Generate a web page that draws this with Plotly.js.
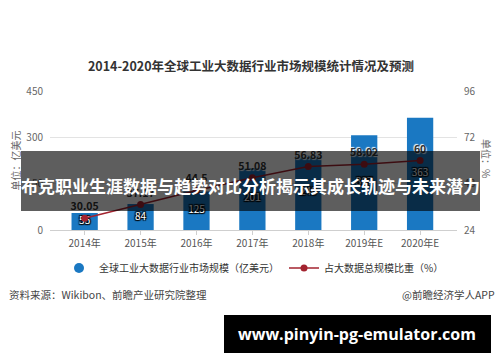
<!DOCTYPE html>
<html>
<head>
<meta charset="utf-8">
<script src="https://cdn.plot.ly/plotly-3.0.1.min.js"></script>
<style>html,body{margin:0;padding:0;background:#fff;}#chart{width:500px;height:362px;}</style>
</head>
<body>
<div id="chart"></div>
<script>
const categories = ["2014年","2015年","2016年","2017年","2018年","2019年E","2020年E"];
const marketSize = [55, 84, 125, 201, 240, 307, 363];
const shareOfTotal = [30.05, 37.17, 44.5, 51.08, 56.83, 58.02, 60];
const shareLabels = ["30.05","37.17","44.5","51.08","56.83","58.02","60"];
const leftTicks = [0, 150, 300, 450];
const rightTicks = [24, 48, 72, 96];

const FONT = '"Noto Sans CJK SC", "Noto Sans", sans-serif';
const BLUE = '#1a78c2';
const RED = '#a3232f';

const traces = [
  {
    type: 'bar', x: categories, y: marketSize, name: '全球工业大数据行业市场规模（亿美元）',
    marker: {color: BLUE}, width: 0.47, showlegend: false, hoverinfo: 'skip'
  },
  {
    type: 'scatter', mode: 'text', x: categories, y: marketSize.map(v => v / 2),
    text: marketSize.map(String), textposition: 'middle center', showlegend: false, cliponaxis: false,
    textfont: {color: '#ffffff', size: 10, family: FONT, shadow: '1px 1px 1px #000, -1px -1px 1px #000, 1px -1px 1px #000, -1px 1px 1px #000'},
    hoverinfo: 'skip'
  },
  {
    type: 'scatter', mode: 'markers', x: [null], y: [null], name: '全球工业大数据行业市场规模（亿美元）',
    marker: {color: BLUE, size: 10, symbol: 'circle'}, showlegend: true
  },
  {
    type: 'scatter', mode: 'lines+markers+text', x: categories, y: shareOfTotal, yaxis: 'y2',
    name: '占大数据总规模比重（%）',
    line: {color: RED, width: 1.5}, marker: {color: RED, size: 7},
    text: shareLabels, textposition: 'top center',
    textfont: {color: '#333', size: 10.5, family: FONT, weight: 'bold', shadow: '1px 1px 1px #fff, -1px -1px 1px #fff'},
    cliponaxis: false
  }
];

function px2x(px){ return (px - 50) / 407; }
function px2y(py){ return (230 - py) / 139; }

const layout = {
  width: 500, height: 362,
  margin: {l: 50, r: 43, t: 91, b: 132},
  paper_bgcolor: '#fff', plot_bgcolor: '#fff',
  font: {family: FONT, color: '#555', size: 10},
  title: {text: '<b>2014-2020年全球工业大数据行业市场规模统计情况及预测</b>', font: {size: 12.5, color: '#333', family: FONT}, x: 0.502, xref: 'container', xanchor: 'center', y: 1 - 67/362, yref: 'container', yanchor: 'middle'},
  bargap: 0.53,
  xaxis: {
    type: 'category', range: [-0.62, 6.66], showgrid: false,
    showline: true, linecolor: '#cfcfcf', linewidth: 1,
    ticks: 'outside', ticklen: 4, tickcolor: '#cfcfcf',
    tickfont: {size: 10, color: '#555'}, fixedrange: true
  },
  yaxis: {
    range: [0, 450], tickvals: leftTicks, ticktext: leftTicks.map(String),
    gridcolor: '#e3e3e3', gridwidth: 1, zeroline: false, showline: false,
    tickfont: {size: 10, color: '#666'}, ticklabelstandoff: 6
  },
  yaxis2: {
    range: [24, 96], tickvals: rightTicks, ticktext: rightTicks.map(String),
    overlaying: 'y', side: 'right', showgrid: false, zeroline: false, showline: false,
    tickfont: {size: 10, color: '#666'}, ticklabelstandoff: 6
  },
  legend: {
    orientation: 'h', x: 0.508, xref: 'container', xanchor: 'center',
    y: 1 - 268/362, yref: 'container', yanchor: 'middle',
    font: {size: 10, color: '#333', family: FONT}, itemwidth: 30, tracegroupgap: 0
  },
  shapes: [
    {type: 'rect', xref: 'paper', yref: 'paper', x0: px2x(21), x1: px2x(480), y0: px2y(211), y1: px2y(151),
     fillcolor: 'rgba(0,0,0,0.63)', line: {width: 0}, layer: 'above'},
    {type: 'rect', xref: 'paper', yref: 'paper', x0: px2x(224), x1: px2x(491), y0: px2y(353), y1: px2y(315),
     fillcolor: '#000', line: {width: 0}, layer: 'above'}
  ],
  annotations: [
    {xref: 'paper', yref: 'paper', x: px2x(15), y: 0.5, text: '单位：亿美元', textangle: -90, showarrow: false,
     font: {size: 10, color: '#666'}, xanchor: 'center', yanchor: 'middle'},
    {xref: 'paper', yref: 'paper', x: px2x(487), y: px2y(158), text: '单位：%', textangle: 90, showarrow: false,
     font: {size: 10, color: '#666'}, xanchor: 'center', yanchor: 'middle'},
    {xref: 'paper', yref: 'paper', x: px2x(7), y: px2y(294), text: '资料来源：Wikibon、前瞻产业研究院整理', showarrow: false,
     font: {size: 10.5, color: '#444'}, xanchor: 'left', yanchor: 'middle'},
    {xref: 'paper', yref: 'paper', x: px2x(497), y: px2y(294), text: '@前瞻经济学人APP', showarrow: false,
     font: {size: 10.5, color: '#444'}, xanchor: 'right', yanchor: 'middle'},
    {xref: 'paper', yref: 'paper', x: px2x(250), y: px2y(185), text: '<b>布克职业生涯数据与趋势对比分析揭示其成长轨迹与未来潜力</b>', showarrow: false,
     font: {size: 17, color: '#fff', family: FONT}, xanchor: 'center', yanchor: 'middle'},
    {xref: 'paper', yref: 'paper', x: px2x(357), y: px2y(334), text: '<b>www.pinyin-pg-emulator.com</b>', showarrow: false,
     font: {size: 16, color: '#fff', family: '"Open Sans", "DejaVu Sans", sans-serif'}, xanchor: 'center', yanchor: 'middle'}
  ]
};

Plotly.newPlot('chart', traces, layout, {displayModeBar: false, staticPlot: true});
</script>
</body>
</html>
